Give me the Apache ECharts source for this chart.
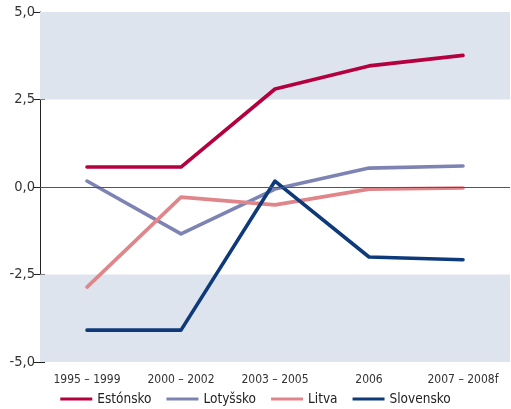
<!DOCTYPE html>
<html>
<head>
<meta charset="utf-8">
<script src="https://cdn.jsdelivr.net/npm/echarts@6/dist/echarts.min.js"></script>
<style>html,body{margin:0;padding:0;background:#fff}#c{width:511px;height:409px}</style>
</head>
<body>
<div id="c"></div>
<script>
const categories = ['1995 – 1999', '2000 – 2002', '2003 – 2005', '2006', '2007 – 2008f'];
const estonsko = [0.57, 0.57, 2.8, 3.46, 3.76];
const lotyssko = [0.17, -1.34, -0.06, 0.54, 0.6];
const litva = [-2.86, -0.29, -0.51, -0.06, -0.03];
const slovensko = [-4.09, -4.09, 0.17, -2.0, -2.08];
const yTicks = [-5, -2.5, 0, 2.5, 5];

const FONT = "'DejaVu Sans Condensed', 'Liberation Sans Narrow', sans-serif";
const chart = echarts.init(document.getElementById('c'));

function line(name, data, color) {
  return {
    name, type: 'line', data, symbol: 'none', z: 3,
    lineStyle: { color, width: 3.6, cap: 'round', join: 'round' },
    itemStyle: { color }
  };
}

// background bands above 2.5 and below -2.5, plus the zero line
const bands = {
  name: 'bands', type: 'line', data: [], symbol: 'none', silent: true, z: 1,
  markArea: {
    silent: true,
    itemStyle: { color: '#dee4ee' },
    data: [
      [{ yAxis: 2.5 }, { yAxis: 5 }],
      [{ yAxis: -5 }, { yAxis: -2.5 }]
    ]
  },
  markLine: {
    silent: true, symbol: 'none', label: { show: false },
    lineStyle: { color: '#555', width: 1, type: 'solid' },
    data: [{ yAxis: 0 }]
  }
};

const yBase = { type: 'value', min: -5, max: 5, interval: 2.5, position: 'left', splitLine: { show: false } };

chart.setOption({
  animation: false,
  grid: { left: 40, right: 1, top: 12, bottom: 47, outerBoundsMode: 'none', containLabel: false },
  legend: {
    bottom: -2, left: 'center',
    data: ['Estónsko', 'Lotyšsko', 'Litva', 'Slovensko'],
    icon: 'rect', itemWidth: 32, itemHeight: 3, itemGap: 15,
    textStyle: { fontFamily: FONT, fontSize: 13.5, color: '#222' }
  },
  xAxis: {
    type: 'category', data: categories, boundaryGap: true,
    axisLine: { show: false },
    axisTick: { show: false },
    axisLabel: { fontFamily: FONT, fontSize: 12, color: '#333', margin: 12 },
    splitLine: { show: false }
  },
  yAxis: [
    Object.assign({}, yBase, {
      axisLine: { show: true, lineStyle: { color: '#222', width: 1 } },
      axisTick: { show: true, length: 6, lineStyle: { color: '#222' } },
      axisLabel: {
        fontFamily: FONT, fontSize: 14.5, color: '#333', margin: 5,
        formatter: v => yTicks.includes(v) ? v.toFixed(1).replace('.', ',') : ''
      }
    }),
    // inner half of the ticks that cross the axis
    Object.assign({}, yBase, {
      axisLine: { show: false },
      axisTick: { show: true, inside: true, length: 5, lineStyle: { color: '#222' } },
      axisLabel: { show: false }
    })
  ],
  series: [
    bands,
    line('Estónsko', estonsko, '#b5003f'),
    line('Lotyšsko', lotyssko, '#7d84b4'),
    line('Litva', litva, '#e0868a'),
    line('Slovensko', slovensko, '#0f3a7a')
  ]
});
</script>
</body>
</html>
